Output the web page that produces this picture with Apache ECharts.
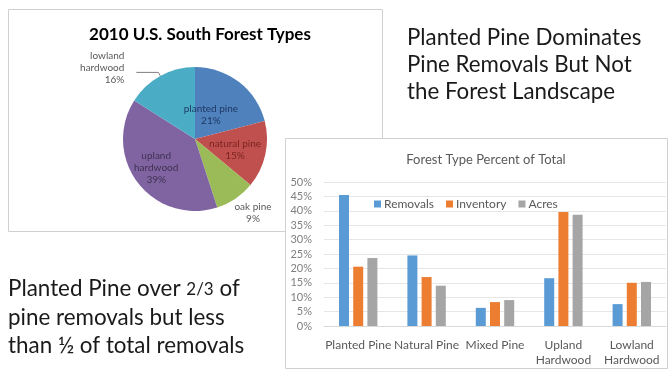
<!DOCTYPE html>
<html><head><meta charset="utf-8">
<script src="https://cdn.jsdelivr.net/npm/echarts@6/dist/echarts.min.js"></script>
<style>html,body{margin:0;padding:0;background:#fff}#c{width:670px;height:370px}</style>
</head><body><div id="c"></div>
<script>
const pieNames = ['planted pine', 'natural pine', 'oak pine', 'upland\nhardwood', 'lowland\nhardwood'];
const pieValues = [21, 15, 9, 39, 16];
const barCategories = ['Planted Pine', 'Natural Pine', 'Mixed Pine', 'Upland\nHardwood', 'Lowland\nHardwood'];
const removals = [45.5, 24.5, 6.3, 16.6, 7.6];
const inventory = [20.6, 17, 8.3, 39.6, 15];
const acres = [23.6, 14, 9, 38.6, 15.3];
const seriesNames = ['Removals', 'Inventory', 'Acres'];

const FONT = 'Lato';
const pieColors = ['#4F81BD', '#C0504D', '#9BBB59', '#8064A2', '#4BACC6'];
const pieLabelColors = ['#1F3864', '#7B2422', '#595959', '#3F3151', '#595959'];
const pieOutside = [false, false, true, false, true];
const pieLabelShift = [[-8, 7], [2, 2], [0, 0], [-8, 5], [-7, -5]];

const chart = echarts.init(document.getElementById('c'));
chart.setOption({
  animation: false,
  textStyle: { fontFamily: FONT },
  title: [
    { text: '2010 U.S. South Forest Types', left: 195, top: 21, textAlign: 'center',
      textStyle: { fontFamily: FONT, fontSize: 17, fontWeight: 'bold', color: '#000' } },
    { text: 'Forest Type Percent of Total', left: 481, top: 148, textAlign: 'center',
      textStyle: { fontFamily: FONT, fontSize: 13, fontWeight: 'normal', color: '#595959' } }
  ],
  graphic: [
    { type: 'rect', z: -10, shape: { x: 8.5, y: 9.5, width: 374, height: 222 },
      style: { fill: '#fff', stroke: '#d0d0d0', lineWidth: 1 } },
    { type: 'rect', z: -9, shape: { x: 285.5, y: 138.5, width: 382, height: 230 },
      style: { fill: '#fff', stroke: '#d0d0d0', lineWidth: 1 } },
    { type: 'text', left: 407, top: 24, style: {
        text: 'Planted Pine Dominates\nPine Removals But Not\nthe Forest Landscape',
        font: '22.3px ' + FONT, fill: '#1a1a1a', lineHeight: 27 } },
    { type: 'text', left: 8, top: 275, style: {
        text: 'Planted Pine over {s|2/3} of\npine removals but less\nthan ½ of total removals',
        font: '22.4px ' + FONT, fill: '#1a1a1a', lineHeight: 28.5,
        rich: { s: { fontSize: 17, fontFamily: FONT, fill: '#1a1a1a', lineHeight: 28.5 } } } }
  ],
  legend: {
    data: seriesNames, left: 369, top: 193, icon: 'rect', itemWidth: 7, itemHeight: 7, itemGap: 12,
    textStyle: { fontFamily: FONT, fontSize: 12, color: '#595959', padding: [0, 0, 0, -2] }
  },
  grid: { left: 324, top: 182, width: 342, height: 144 },
  xAxis: {
    type: 'category', data: barCategories,
    axisLine: { lineStyle: { color: '#d9d9d9' } }, axisTick: { show: false },
    axisLabel: { fontFamily: FONT, fontSize: 12, color: '#595959', margin: 12, lineHeight: 15, interval: 0 }
  },
  yAxis: {
    type: 'value', min: 0, max: 50, interval: 5,
    axisLine: { show: false }, axisTick: { show: false },
    splitLine: { lineStyle: { color: '#e6e6e6' } },
    axisLabel: { fontFamily: FONT, fontSize: 11, color: '#7f7f7f', margin: 12, formatter: '{value}%' }
  },
  series: [
    { type: 'pie', center: [195, 139], radius: 72, startAngle: 90, clockwise: true,
      data: pieNames.map((n, i) => ({
        name: n, value: pieValues[i],
        itemStyle: { color: pieColors[i] },
        label: { position: pieOutside[i] ? 'outside' : 'inner', color: pieLabelColors[i] },
        labelLine: { show: i === 4, length: 4, length2: 22, lineStyle: { color: '#7f7f7f', width: 1 } }
      })),
      label: { fontFamily: FONT, fontSize: 10, lineHeight: 12, formatter: '{b}\n{d}%', align: 'center' },
      labelLayout: function (p) {
        if (p.dataIndex === 2) {
          return { x: 253, y: 213, align: 'center', verticalAlign: 'middle' };
        }
        const s = pieLabelShift[p.dataIndex];
        return { dx: s[0], dy: s[1] };
      },
      itemStyle: { borderWidth: 0 }
    },
    { name: seriesNames[0], type: 'bar', data: removals, barWidth: 10, barGap: '42%', itemStyle: { color: '#5B9BD5' } },
    { name: seriesNames[1], type: 'bar', data: inventory, barWidth: 10, barGap: '42%', itemStyle: { color: '#ED7D31' } },
    { name: seriesNames[2], type: 'bar', data: acres, barWidth: 10, barGap: '42%', itemStyle: { color: '#A5A5A5' } }
  ]
});
</script></body></html>
